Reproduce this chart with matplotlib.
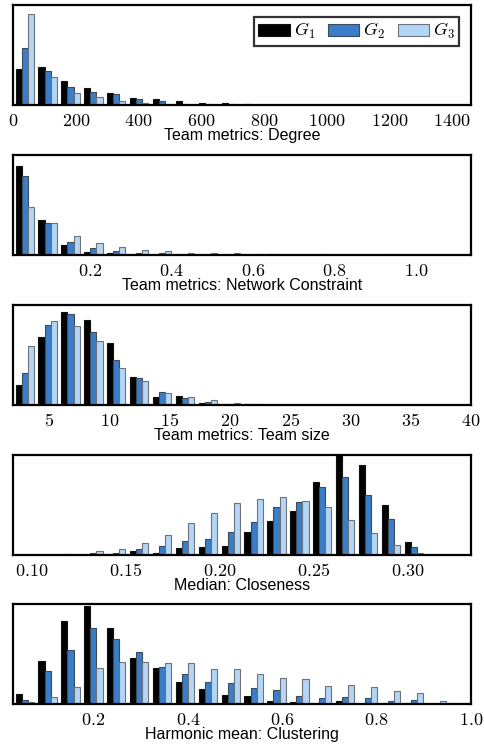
import numpy as np
import matplotlib
matplotlib.use("Agg")
import matplotlib.pyplot as plt
from matplotlib.patches import Patch

plt.rcParams["mathtext.fontset"] = "cm"
plt.rcParams["font.family"] = ["Liberation Sans", "DejaVu Sans"]

groups = ["$G_1$", "$G_2$", "$G_3$"]
colors = ["#000000", "#3a7dc9", "#b3d5f6"]
edge_colors = ["#111111", "#3d4a5a", "#6f7378"]

# --- Team metrics: Degree ---
degree_range = (0, 1460)
degree_g1 = [36, 38, 24, 17, 11.7, 6.7, 6, 4.3, 1.7, 1.7, 0.6, 0.4, 0.3, 0.2, 0.2, 0.1, 0.1, 0.1, 0.05, 0.05]
degree_g2 = [57, 34, 18, 13, 10.7, 5.7, 3.7, 1.3, 1.3, 1.0, 0.5, 0.3, 0.2, 0.2, 0.1, 0.1, 0.05, 0.05, 0.05, 0.05]
degree_g3 = [91, 28, 12, 8, 4, 2.3, 1, 0.5, 0.3, 0.3, 0.2, 0.1, 0.1, 0.1, 0.05, 0.05, 0, 0, 0, 0]
degree_ticks = [0, 200, 400, 600, 800, 1000, 1200, 1400]

# --- Team metrics: Network Constraint ---
constraint_range = (0.011, 1.135)
constraint_g1 = [87.7, 34.7, 10, 3, 2.3, 1, 0.3, 0.3, 0.2, 0, 0.2, 0.5, 0, 0.4, 0, 0, 0.3, 0, 0, 0]
constraint_g2 = [77, 31, 12.7, 6.7, 3.7, 2, 2, 0.7, 0.3, 0.3, 0.3, 0.5, 0, 1.2, 0, 0, 1.2, 0, 0, 0]
constraint_g3 = [47, 31.7, 18.3, 11.3, 8, 5, 4.3, 2.3, 2, 2, 0.5, 0.4, 0, 0.3, 0, 0, 0.2, 0, 0, 0.7]
constraint_ticks = [0.2, 0.4, 0.6, 0.8, 1.0]

# --- Team metrics: Team size ---
size_range = (2, 40)
size_g1 = [20, 66.3, 91.3, 83.3, 60.7, 27, 8.3, 9.3, 2.3, 0.8, 0.7, 0.3, 0, 0, 0, 0, 0, 0, 0, 0]
size_g2 = [31, 78.7, 89, 72, 44, 26.7, 13, 6.7, 3, 0.8, 0.7, 0.3, 0, 0, 0, 0, 0, 0, 0, 0]
size_g3 = [57.7, 82, 77.7, 62.3, 36, 23.3, 12, 8, 4.7, 1.5, 1.2, 0.4, 0, 0, 0, 0, 0, 0, 0, 0]
size_ticks = [5, 10, 15, 20, 25, 30, 35, 40]

# --- Median: Closeness ---
closeness_range = (0.09, 0.334)
closeness_g1 = [0, 0, 1, 0, 0.7, 4, 2, 6.7, 8, 8.7, 23.3, 33.3, 43.3, 72.7, 99.3, 89.3, 50, 12.5, 0, 0.3]
closeness_g2 = [0, 0, 1, 2, 2, 5.7, 9.3, 13.7, 16, 23.3, 32.3, 47.7, 52.3, 67.3, 77, 59.7, 35.7, 7.5, 0, 0.2]
closeness_g3 = [0, 0.3, 0.3, 3.7, 6, 12, 20.3, 32, 42, 51.7, 55.3, 57.7, 53.3, 47.3, 35, 22, 9.7, 1.7, 0, 0]
closeness_ticks = [0.10, 0.15, 0.20, 0.25, 0.30]

# --- Harmonic mean: Clustering ---
clustering_range = (0.03, 1.0)
clustering_g1 = [9.7, 42.7, 82.3, 96.3, 75, 45.7, 35.3, 22, 14.7, 9.3, 8, 3.3, 2.3, 1.3, 2.7, 0.3, 1.3, 0.7, 0.3, 0.7]
clustering_g2 = [4.3, 32.7, 53.3, 75, 64.3, 51, 37, 29.3, 21.3, 20.3, 16, 14, 7.7, 5.7, 6.7, 5.7, 2.7, 3.7, 0.3, 0]
clustering_g3 = [2, 7, 17, 36, 41.3, 41.3, 40.3, 40, 34.3, 35, 29.3, 25.2, 24.8, 18, 19.2, 16.6, 13, 11.2, 3.3, 0.7]
clustering_ticks = [0.2, 0.4, 0.6, 0.8, 1.0]

panels = [
    ("Team metrics: Degree", degree_range, [degree_g1, degree_g2, degree_g3],
     degree_ticks, "{:.0f}", 100),
    ("Team metrics: Network Constraint", constraint_range,
     [constraint_g1, constraint_g2, constraint_g3], constraint_ticks, "{:.1f}", 98),
    ("Team metrics: Team size", size_range, [size_g1, size_g2, size_g3],
     size_ticks, "{:.0f}", 98),
    ("Median: Closeness", closeness_range,
     [closeness_g1, closeness_g2, closeness_g3], closeness_ticks, "{:.2f}", 99.3),
    ("Harmonic mean: Clustering", clustering_range,
     [clustering_g1, clustering_g2, clustering_g3], clustering_ticks, "{:.1f}", 98.7),
]

W, H = 485, 745
fig = plt.figure(figsize=(W / 100, H / 100), dpi=100)

left_px, right_px = 13.3, 471.0
tops_px = [5, 155, 305, 455, 604]
ax_h_px = 100

for i, (label, (lo, hi), series, ticks, fmt, ytop) in enumerate(panels):
    top = tops_px[i]
    ax = fig.add_axes([left_px / W, 1 - (top + ax_h_px) / H,
                       (right_px - left_px) / W, ax_h_px / H])
    nbins = len(series[0])
    edges = np.linspace(lo, hi, nbins + 1)
    centers = 0.5 * (edges[:-1] + edges[1:])
    _, _, containers = ax.hist([centers] * 3, bins=edges, weights=series,
                               color=colors, histtype="bar", linewidth=0.8)
    for cont, ec in zip(containers, edge_colors):
        for p in cont:
            p.set_edgecolor(ec)
    ax.set_xlim(lo, hi)
    ax.set_ylim(0, ytop)
    ax.set_yticks([])
    ax.set_xticks(ticks)
    ax.set_xticklabels(["$" + fmt.format(t) + "$" for t in ticks], fontsize=13)
    ax.tick_params(axis="x", length=0, pad=5.5)
    ax.set_xlabel(label, fontsize=11.5, labelpad=-1)
    for s in ax.spines.values():
        s.set_linewidth(1.6)
        s.set_color("black")

    if i == 0:
        handles = [Patch(facecolor=c, edgecolor=e, linewidth=0.8)
                   for c, e in zip(colors, edge_colors)]
        leg = ax.legend(handles, groups, loc="upper right", ncol=3,
                        fontsize=13, frameon=True, fancybox=False,
                        handlelength=1.75, handleheight=0.7, handletextpad=0.2,
                        columnspacing=0.7, borderpad=0.25, borderaxespad=0.65)
        leg.get_frame().set_edgecolor("black")
        leg.get_frame().set_linewidth(1.6)

fig.savefig("out.png", dpi=100)
